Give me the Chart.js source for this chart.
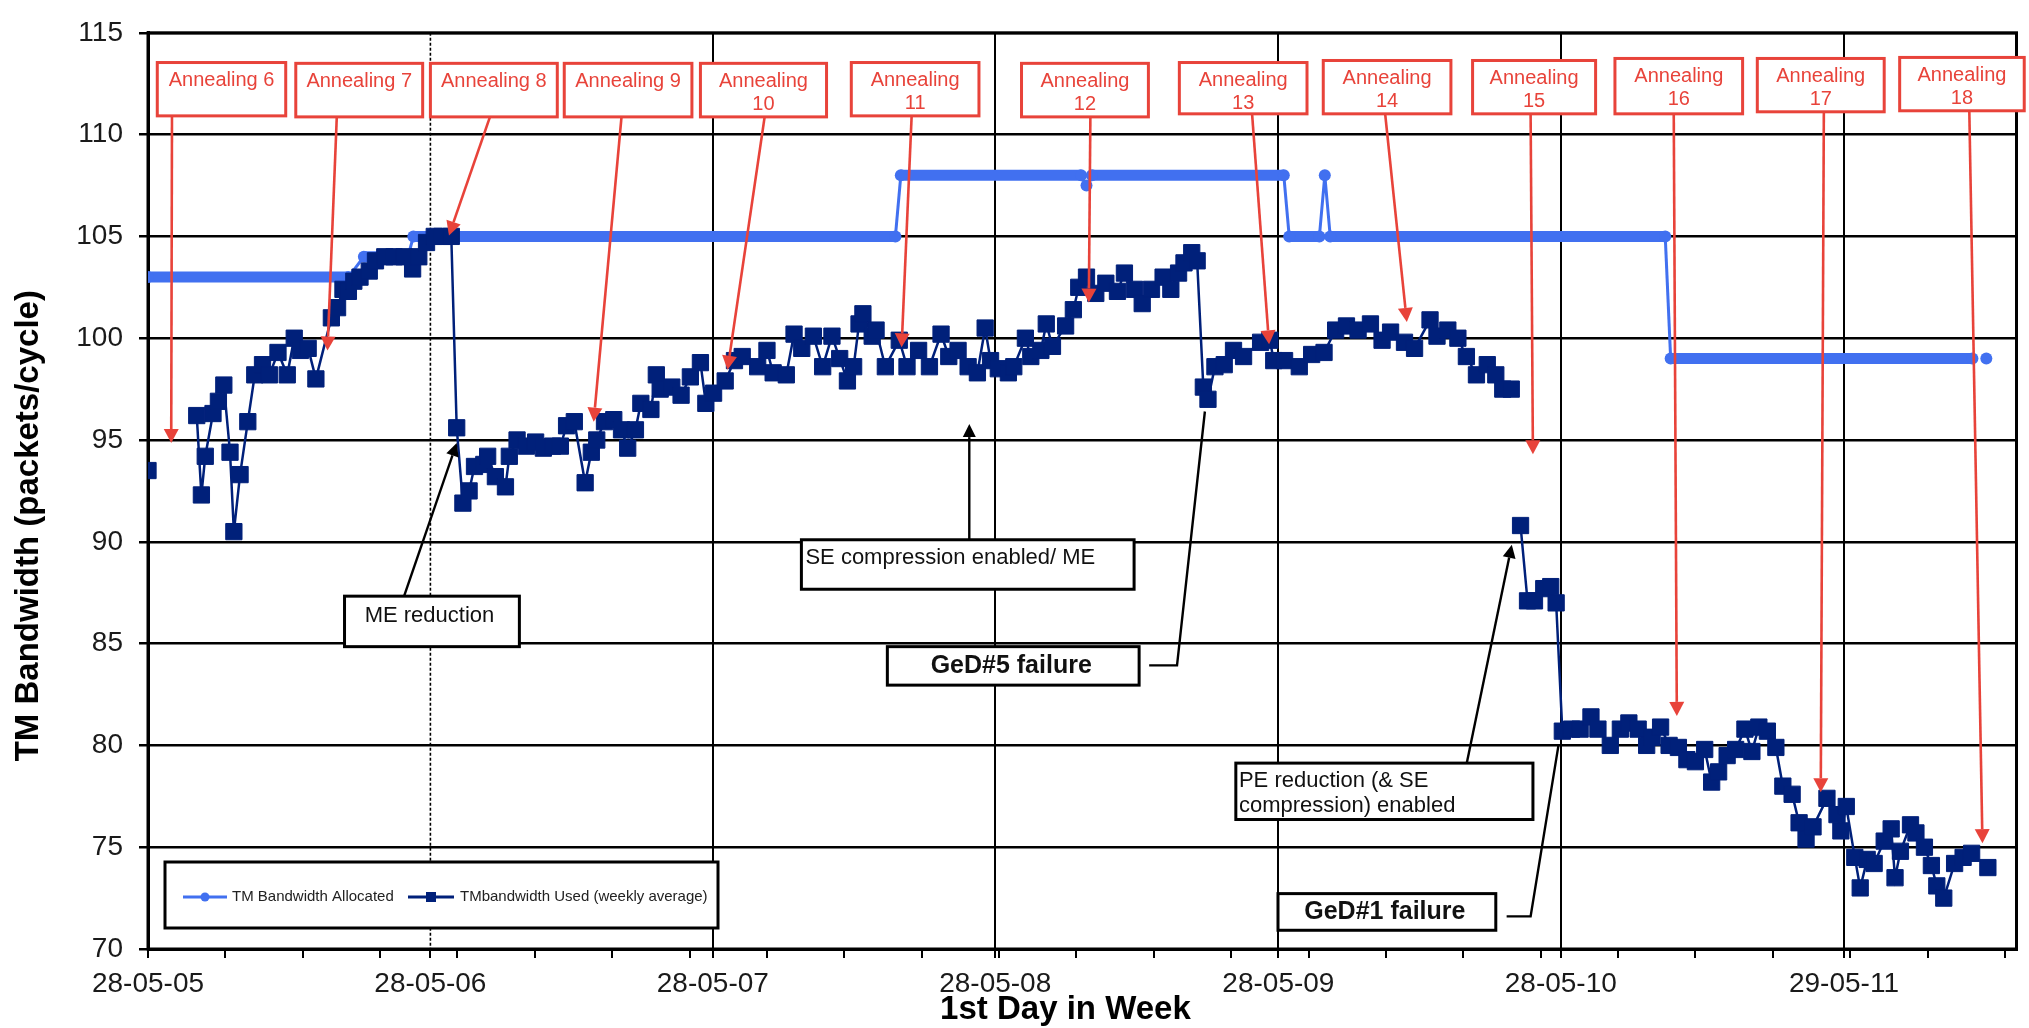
<!DOCTYPE html>
<html>
<head>
<meta charset="utf-8">
<script src="https://cdn.jsdelivr.net/npm/chart.js@4.4.1/dist/chart.umd.min.js"></script>
<style>
  html, body { margin: 0; padding: 0; background: #fff; }
  canvas { display: block; }
</style>
</head>
<body>
<canvas id="chart" width="2029" height="1028"></canvas>
<script>
// ---- axis ticks (days counted from 28-05-05) ----
const yearDays   = [0, 365, 730, 1095, 1461, 1826, 2192];
const yearLabels = ['28-05-05', '28-05-06', '28-05-07', '28-05-08', '28-05-09', '28-05-10', '29-05-11'];
const minorDays  = [0, 100, 200, 300, 400, 500, 600, 700, 800, 900, 1000, 1100, 1200, 1300,
                    1400, 1500, 1600, 1700, 1800, 1900, 2000, 2100, 2200, 2300, 2400];
const xTitle = '1st Day in Week';
const yTitle = 'TM Bandwidth (packets/cycle)';

// ---- TM bandwidth allocated (value changes) ----
const allocDays   = [0, 259, 279, 336, 343, 966, 973, 1206, 1213, 1220, 1468, 1475, 1514, 1521, 1528, 1961, 1968, 2358, 2367, 2376];
const allocValues = [103, 103, 104, 104, 105, 105, 108, 108, 107.5, 108, 108, 105, 105, 108, 105, 105, 99, 99, null, 99];

// ---- TM bandwidth used, weekly average ----
const usedDays = [
  0, 30, 63, 69, 74, 84, 91, 98, 106, 111, 119, 129, 138, 148, 157, 168, 180, 189, 197, 207, 217,
  237, 245, 252, 259, 266, 274, 286, 294, 306, 318, 331, 342, 350, 360, 370, 380, 392,
  399, 407, 415, 422, 434, 439, 449, 462, 467, 477, 489, 501, 511, 523, 533, 541, 551,
  565, 573, 580, 590, 602, 612, 620, 630, 637, 650, 657, 662, 677, 689, 701, 714, 721, 731, 746, 758,
  768, 788, 800, 808, 825, 835, 845, 860, 872, 884, 894, 904, 912, 919, 924, 936, 941, 953,
  971, 981, 996, 1010, 1025, 1035, 1047, 1060, 1072, 1082, 1089, 1099, 1112, 1119, 1134, 1141,
  1154, 1161, 1169, 1186, 1196, 1203, 1213, 1225, 1238, 1253, 1262, 1275, 1285, 1297, 1312,
  1322, 1332, 1339, 1349, 1356, 1364, 1370, 1379, 1391, 1403, 1416, 1438, 1450, 1455, 1469,
  1488, 1504, 1520, 1535, 1549, 1564, 1580, 1595, 1606, 1624, 1637, 1657, 1666, 1680, 1693,
  1704, 1717, 1731, 1742, 1751, 1762, 1768,
  1774, 1783, 1792, 1804, 1813, 1820, 1828, 1840, 1851, 1865, 1874, 1890, 1903, 1914, 1926,
  1937, 1944, 1955, 1966, 1978, 1989, 2000, 2012, 2021, 2030, 2041, 2052, 2064, 2073, 2082,
  2093, 2104, 2113, 2125, 2134, 2143, 2152, 2170, 2183, 2188, 2195, 2206, 2213, 2222, 2231,
  2244, 2253, 2258, 2265, 2278, 2285, 2296, 2305, 2312, 2321, 2335, 2346, 2357, 2368, 2378
];
const usedValues = [
  93.5, null, 96.2, 92.3, 94.2, 96.3, 96.9, 97.7, 94.4, 90.5, 93.3, 95.9, 98.2, 98.7, 98.2, 99.3, 98.2, 100.0, 99.4, 99.5, 98.0,
  101.0, 101.5, 102.4, 102.3, 102.8, 103.0, 103.3, 103.8, 104.0, 104.0, 104.0, 103.4, 104.0, 104.7, 105.0, 105.0, 105.0,
  95.6, 91.9, 92.5, 93.7, 93.8, 94.2, 93.2, 92.7, 94.2, 95.0, 94.7, 94.9, 94.6, 94.7, 94.7, 95.7, 95.9,
  92.9, 94.4, 95.0, 95.9, 96.0, 95.5, 94.6, 95.5, 96.8, 96.5, 98.2, 97.5, 97.6, 97.2, 98.1, 98.8, 96.8, 97.3, 97.9, 98.9,
  99.1, 98.6, 99.4, 98.3, 98.2, 100.2, 99.5, 100.1, 98.6, 100.1, 99.0, 97.9, 98.6, 100.7, 101.2, 100.1, 100.4, 98.6,
  99.9, 98.6, 99.4, 98.6, 100.2, 99.1, 99.4, 98.6, 98.3, 100.5, 98.9, 98.5, 98.3, 98.6, 100.0, 99.1,
  99.4, 100.7, 99.6, 100.6, 101.4, 102.5, 103.0, 102.2, 102.7, 102.3, 103.2, 102.4, 101.7, 102.4, 103.0,
  102.4, 103.2, 103.7, 104.2, 103.8, 97.6, 97.0, 98.6, 98.7, 99.4, 99.1, 99.8, 99.9, 98.9, 98.9,
  98.6, 99.2, 99.3, 100.4, 100.6, 100.4, 100.7, 99.9, 100.3, 99.8, 99.5, 100.9, 100.1, 100.4, 100.0,
  99.1, 98.2, 98.7, 98.2, 97.5, 97.5, null,
  90.8, 87.1, 87.1, 87.7, 87.8, 87.0, 80.7, 80.8, 80.8, 81.4, 80.8, 80.0, 80.8, 81.1, 80.8,
  80.0, 80.4, 80.9, 80.0, 79.9, 79.3, 79.2, 79.8, 78.2, 78.7, 79.5, 79.8, 80.8, 79.7, 80.9,
  80.7, 79.9, 78.0, 77.6, 76.2, 75.4, 76.0, 77.4, 76.6, 75.8, 77.0, 74.5, 73.0, 74.4, 74.2,
  75.3, 75.9, 73.5, 74.8, 76.1, 75.7, 75.0, 74.1, 73.1, 72.5, 74.2, 74.5, 74.7, null, 74.0
];

// ---- annealing events: arrow tip (day, value) ----
const annealLines = [
  ['Annealing 6'], ['Annealing 7'], ['Annealing 8'], ['Annealing 9'],
  ['Annealing', '10'], ['Annealing', '11'], ['Annealing', '12'], ['Annealing', '13'],
  ['Annealing', '14'], ['Annealing', '15'], ['Annealing', '16'], ['Annealing', '17'], ['Annealing', '18']
];
const annealTipDays   = [30, 232, 389, 576, 749, 974, 1216, 1449, 1627, 1790, 1976, 2162, 2371];
const annealTipValues = [94.85, 99.4, 105.05, 95.9, 98.45, 99.55, 101.75, 99.7, 100.8, 94.3, 81.45, 77.7, 75.2];

// box placement for the annealing callouts: [dayLeft, dayRight, valueTop, valueBottom], arrow start day
const annealBoxes = [
  [12, 178, 113.54, 110.92], [191, 355, 113.50, 110.87], [365, 529, 113.50, 110.87], [538, 703, 113.50, 110.87],
  [714, 877, 113.50, 110.87], [909, 1074, 113.54, 110.92], [1129, 1293, 113.50, 110.87], [1333, 1498, 113.54, 111.02],
  [1519, 1684, 113.64, 111.02], [1712, 1871, 113.64, 111.02], [1896, 2061, 113.74, 111.02], [2080, 2244, 113.74, 111.12],
  [2264, 2425, 113.79, 111.17]
];
const annealArrowFrom = [31, 244, 442, 612, 797, 987, 1218, 1427, 1599, 1787, 1972, 2166, 2354];

// ---- other event callouts ----
const notes = [
  { lines: ['ME reduction'], bold: false, box: [254, 480, 87.33, 84.85], text: [280, 86.36], align: 'left',
    path: [[331, 87.33], [399, 94.85]], head: true },
  { lines: ['SE compression enabled/ ME'], bold: false, box: [844.5, 1274.5, 90.1, 87.67], text: [849.7, 89.22], align: 'left',
    path: [[1061.5, 90.1], [1061.5, 95.78]], head: true },
  { lines: ['GeD#5 failure'], bold: true, box: [955.6, 1281, 84.85, 82.96], text: [1115.7, 83.88], align: 'center',
    path: [[1294, 83.93], [1330, 83.93], [1366, 96.4]], head: false },
  { lines: ['PE reduction (& SE', 'compression) enabled'], bold: false, box: [1406, 1790, 79.13, 76.36], text: [1410, 78.25], align: 'left',
    path: [[1704.5, 79.13], [1762.7, 89.85]], head: true },
  { lines: ['GeD#1 failure'], bold: true, box: [1460.5, 1742, 72.72, 70.92], text: [1598.6, 71.8], align: 'center',
    path: [[1756, 71.6], [1787, 71.6], [1823, 80.0]], head: false }
];

const FONT = '"Liberation Sans", Arial, Helvetica, sans-serif';
const ALLOC_COLOR = '#4170F0';
const USED_COLOR = '#00207A';
const RED = '#E8433A';

const xTickDays = Array.from(new Set(minorDays.concat(yearDays))).sort((a, b) => a - b);

function pts(days, values) {
  return days.map((d, i) => ({ x: d, y: values[i] }));
}

function drawArrow(ctx, x0, y0, x1, y1, color, lw, len, half) {
  const ang = Math.atan2(y1 - y0, x1 - x0);
  const hx = x1 - len * Math.cos(ang), hy = y1 - len * Math.sin(ang);
  ctx.strokeStyle = color; ctx.fillStyle = color; ctx.lineWidth = lw;
  ctx.beginPath(); ctx.moveTo(x0, y0); ctx.lineTo(hx, hy); ctx.stroke();
  ctx.beginPath();
  ctx.moveTo(x1, y1);
  ctx.lineTo(hx + half * Math.sin(ang), hy - half * Math.cos(ang));
  ctx.lineTo(hx - half * Math.sin(ang), hy + half * Math.cos(ang));
  ctx.closePath(); ctx.fill();
}

const frameAndGrid = {
  id: 'frameAndGrid',
  beforeDatasetsDraw(chart) {
    const { ctx, chartArea: a, scales: { x } } = chart;
    ctx.save();
    // dotted year line at 28-05-06
    const gx = x.getPixelForValue(yearDays[1]);
    ctx.strokeStyle = '#000'; ctx.lineWidth = 1.6; ctx.setLineDash([3, 2]);
    ctx.beginPath(); ctx.moveTo(gx, a.top); ctx.lineTo(gx, a.bottom); ctx.stroke();
    ctx.setLineDash([]);
    // plot frame
    ctx.lineWidth = 3;
    ctx.strokeRect(a.left, a.top, a.right - a.left, a.bottom - a.top);
    ctx.restore();
  },
  afterDraw(chart) {
    // axis titles
    const { ctx, chartArea: a } = chart;
    ctx.save();
    ctx.fillStyle = '#000';
    ctx.textAlign = 'center';
    ctx.textBaseline = 'middle';
    ctx.font = 'bold 33px ' + FONT;
    ctx.fillText(xTitle, a.left + (a.right - a.left) * 0.491, chart.height - 18);
    ctx.translate(29, a.top + (a.bottom - a.top) * 0.538);
    ctx.rotate(-Math.PI / 2);
    ctx.fillText(yTitle, 0, 0);
    ctx.restore();
  }
};

const callouts = {
  id: 'callouts',
  afterDatasetsDraw(chart) {
    const { ctx, chartArea: a, scales: { x, y } } = chart;
    const px = d => x.getPixelForValue(d);
    const py = v => y.getPixelForValue(v);
    ctx.save();
    ctx.textBaseline = 'middle';

    // annealing callouts
    annealLines.forEach((lines, i) => {
      const [d0, d1, vTop, vBot] = annealBoxes[i];
      const bx0 = px(d0), bx1 = px(d1), by0 = py(vTop), by1 = py(vBot);
      drawArrow(ctx, px(annealArrowFrom[i]), by1, px(annealTipDays[i]), py(annealTipValues[i]), RED, 2.6, 14, 7.5);
      ctx.fillStyle = '#fff';
      ctx.fillRect(bx0, by0, bx1 - bx0, by1 - by0);
      ctx.strokeStyle = RED; ctx.lineWidth = 3;
      ctx.strokeRect(bx0, by0, bx1 - bx0, by1 - by0);
      ctx.fillStyle = RED; ctx.textAlign = 'center';
      ctx.font = '20px ' + FONT;
      const cx = (bx0 + bx1) / 2;
      lines.forEach((t, k) => ctx.fillText(t, cx, by0 + 18 + k * 23));
    });

    // event callouts
    notes.forEach(n => {
      const p = n.path.map(([d, v]) => [px(d), py(v)]);
      ctx.strokeStyle = '#000'; ctx.lineWidth = 2.4;
      if (n.head) {
        drawArrow(ctx, p[0][0], p[0][1], p[1][0], p[1][1], '#000', 2.4, 13, 6.5);
      } else {
        ctx.beginPath();
        p.forEach(([qx, qy], k) => k ? ctx.lineTo(qx, qy) : ctx.moveTo(qx, qy));
        ctx.stroke();
      }
      const [d0, d1, vTop, vBot] = n.box;
      const bx0 = px(d0), bx1 = px(d1), by0 = py(vTop), by1 = py(vBot);
      ctx.fillStyle = '#fff';
      ctx.fillRect(bx0, by0, bx1 - bx0, by1 - by0);
      ctx.strokeStyle = '#000'; ctx.lineWidth = 3;
      ctx.strokeRect(bx0, by0, bx1 - bx0, by1 - by0);
      ctx.fillStyle = '#111';
      ctx.font = (n.bold ? 'bold 25px ' : '22px ') + FONT;
      ctx.textAlign = n.align;
      n.lines.forEach((t, k) => ctx.fillText(t, px(n.text[0]), py(n.text[1]) + k * 25));
    });

    // legend box
    const lx = a.left + 17, ly = a.bottom - 87, lw = 553, lh = 66;
    ctx.fillStyle = '#fff';
    ctx.fillRect(lx, ly, lw, lh);
    ctx.strokeStyle = '#000'; ctx.lineWidth = 3;
    ctx.strokeRect(lx, ly, lw, lh);
    const cy = ly + 35;
    const ds = chart.data.datasets;
    ctx.font = '15px ' + FONT; ctx.textAlign = 'left'; ctx.fillStyle = '#222';
    // allocated sample
    ctx.strokeStyle = ALLOC_COLOR; ctx.lineWidth = 3;
    ctx.beginPath(); ctx.moveTo(lx + 18, cy); ctx.lineTo(lx + 62, cy); ctx.stroke();
    ctx.fillStyle = ALLOC_COLOR;
    ctx.beginPath(); ctx.arc(lx + 40, cy, 4.5, 0, Math.PI * 2); ctx.fill();
    ctx.fillStyle = '#222';
    ctx.fillText(ds[0].label, lx + 67, cy);
    // used sample
    ctx.strokeStyle = USED_COLOR; ctx.lineWidth = 3;
    ctx.beginPath(); ctx.moveTo(lx + 243, cy); ctx.lineTo(lx + 289, cy); ctx.stroke();
    ctx.fillStyle = USED_COLOR;
    ctx.fillRect(lx + 261, cy - 5, 10, 10);
    ctx.fillStyle = '#222';
    ctx.fillText(ds[1].label, lx + 295, cy);
    ctx.restore();
  }
};

Chart.defaults.font.family = FONT;

new Chart(document.getElementById('chart'), {
  type: 'line',
  data: {
    datasets: [
      {
        label: 'TM Bandwidth Allocated',
        data: pts(allocDays, allocValues),
        order: 2,
        borderColor: ALLOC_COLOR,
        backgroundColor: ALLOC_COLOR,
        borderWidth: 3,
        segment: {
          borderWidth: c => (c.p0.parsed.y === c.p1.parsed.y ? 11 : 3)
        },
        pointStyle: 'circle',
        pointRadius: 6,
        pointBorderWidth: 0,
        pointBackgroundColor: ALLOC_COLOR,
        tension: 0,
        spanGaps: false
      },
      {
        label: 'TMbandwidth Used (weekly average)',
        data: pts(usedDays, usedValues),
        order: 1,
        borderColor: USED_COLOR,
        backgroundColor: USED_COLOR,
        borderWidth: 2.5,
        pointStyle: 'rect',
        pointRadius: 11.5,
        pointBorderWidth: 1,
        pointBorderColor: USED_COLOR,
        pointBackgroundColor: USED_COLOR,
        tension: 0,
        spanGaps: false
      }
    ]
  },
  options: {
    responsive: false,
    animation: false,
    events: [],
    layout: { padding: { left: 0, right: 11, top: 22, bottom: 0 } },
    plugins: {
      legend: { display: false },
      tooltip: { enabled: false }
    },
    scales: {
      x: {
        type: 'linear',
        min: 0,
        max: 2415,
        afterBuildTicks(s) { s.ticks = xTickDays.map(v => ({ value: v })); },
        afterFit(s) { s.height = 79; },
        ticks: {
          autoSkip: false,
          maxRotation: 0,
          padding: 9,
          color: '#1a1a1a',
          font: { size: 28 },
          callback(v) {
            const i = yearDays.indexOf(v);
            return i >= 0 ? yearLabels[i] : '';
          }
        },
        grid: {
          color: c => {
            const v = c.tick ? c.tick.value : null;
            return (yearDays.indexOf(v) > 1) ? '#000' : 'rgba(0,0,0,0)';
          },
          lineWidth: 2,
          tickLength: 9,
          tickWidth: 2,
          tickColor: '#000'
        },
        border: { color: '#000', width: 3 },
        title: { display: false, text: xTitle }
      },
      y: {
        min: 70,
        max: 115,
        afterFit(s) { s.width = 148; },
        ticks: {
          stepSize: 5,
          padding: 16,
          color: '#1a1a1a',
          font: { size: 28 }
        },
        grid: {
          color: '#000',
          lineWidth: 2.5,
          tickLength: 9,
          tickWidth: 2.5,
          tickColor: '#000'
        },
        border: { color: '#000', width: 3 },
        title: { display: false, text: yTitle }
      }
    }
  },
  plugins: [frameAndGrid, callouts]
});
</script>
</body>
</html>
